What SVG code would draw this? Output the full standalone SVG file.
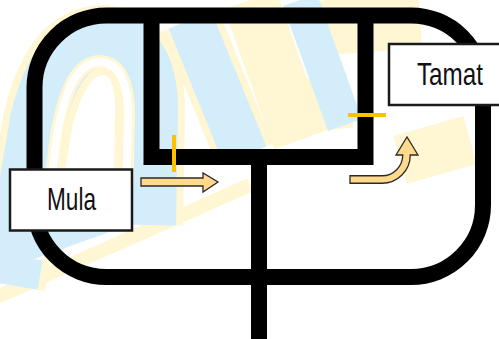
<svg xmlns="http://www.w3.org/2000/svg" width="499" height="339" viewBox="0 0 499 339">
  <style>
    .track { fill: none; stroke: #000; stroke-width: 16; stroke-linejoin: miter; stroke-linecap: butt; }
    .box { fill: #fff; stroke: #1a1a1a; stroke-width: 2.5; }
    .label { font-family: "Liberation Sans", Arial, sans-serif; font-size: 32px; fill: #111; text-anchor: middle; }
    .arrow { fill: #FFD98C; stroke: #2a2a2a; stroke-width: 1.3; stroke-linejoin: miter; }
    .tick { fill: #FFC000; }
    .wm-y { fill: none; stroke: #FFF6D3; }
    .wm-b { fill: none; stroke: #D3EDFB; }
    .wm-w { fill: none; stroke: #fff; }
  </style>
  <rect width="499" height="339" fill="#fff"/>
  <g id="watermark" stroke-linecap="butt" stroke-linejoin="round">
    <path class="wm-y" stroke-width="14" d="M-10,300 L250,185"/>
    <path class="wm-y" stroke-width="70" d="M10,285 L38,120 Q58,38 105,40 Q150,44 150,110 L148,225"/>
    <path class="wm-b" stroke-width="56" d="M10,285 L38,120 Q58,38 105,40 Q150,44 150,110 L148,225"/>
    <path class="wm-y" stroke-width="14" d="M40,260 L58,130 Q70,62 100,62 Q128,64 128,115 L126,210"/>
    <path class="wm-w" stroke-width="8" d="M40,260 L58,130 Q70,62 100,62 Q128,64 128,115 L126,210"/>
    <path class="wm-b" stroke-width="40" d="M0,250 L140,200"/>
    <path class="wm-y" stroke-width="60" d="M190,20 L245,155"/>
    <path class="wm-b" stroke-width="46" d="M190,20 L245,155"/>
    <path class="wm-y" stroke-width="55" d="M250,0 L300,140 M300,30 L420,20 M270,110 L350,100"/>
    <path class="wm-b" stroke-width="36" d="M300,0 L345,125"/>
    <path class="wm-y" stroke-width="50" d="M400,160 L470,140"/>
  </g>
  <g id="connectors">
    <rect class="track" x="34.5" y="15.5" width="448.5" height="261.5" rx="72" ry="72"/>
    <path class="track" d="M151.5,15.5 V157 H365.5 V15.5"/>
    <path class="track" d="M259,157 V339"/>
  </g>
  <g id="tick-left"><rect class="tick" x="172" y="135" width="4" height="37"/></g>
  <g id="tick-right"><rect class="tick" x="348" y="113" width="38" height="4"/></g>
  <g id="arrow-start">
    <polygon class="arrow" points="141,178 203,178 203,173 218,182 203,192 203,186 141,186"/>
  </g>
  <g id="arrow-end">
    <path class="arrow" d="M350,175.75 H382 A20.75,20.75 0 0 0 402.75,155 H396 L407,137 L418,155 H410.25 A28.25,28.25 0 0 1 382,183.25 H350 Z"/>
  </g>
  <g id="node-mula">
    <rect class="box" x="10" y="169.5" width="122" height="61"/>
    <text class="label" x="71.5" y="210" textLength="49" lengthAdjust="spacingAndGlyphs">Mula</text>
  </g>
  <g id="node-tamat">
    <rect class="box" x="389" y="44" width="114" height="61"/>
    <text class="label" x="450" y="85" font-size="31" textLength="66" lengthAdjust="spacingAndGlyphs">Tamat</text>
  </g>
</svg>
